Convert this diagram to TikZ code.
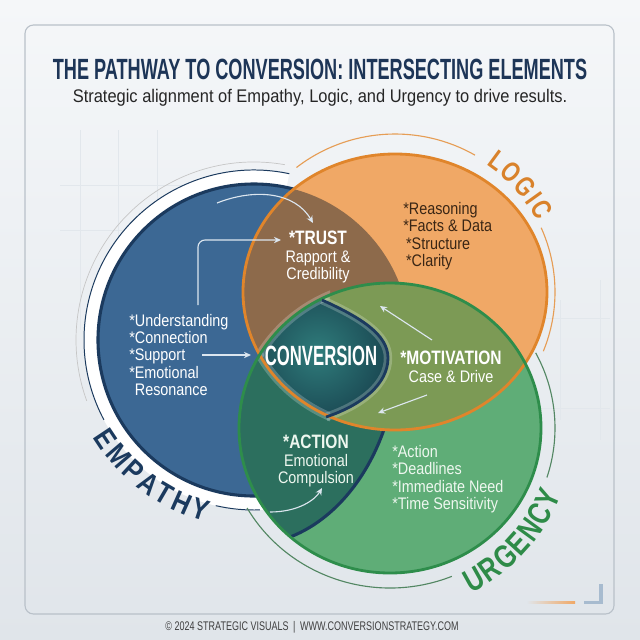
\documentclass[tikz,border=0pt]{standalone}
\usepackage{fontspec}
\setmainfont{Liberation Sans}
\newfontfamily\titlefont{Liberation Sans}[FakeStretch=0.62]
\newfontfamily\headfont{Liberation Sans}[FakeStretch=0.80]
\newfontfamily\bodyfont{Liberation Sans}[FakeStretch=0.86]
\newfontfamily\subfont{Liberation Sans}[FakeStretch=0.90]
\newfontfamily\footfont{Liberation Sans}[FakeStretch=0.72]
\newfontfamily\convfont{Liberation Sans}[FakeStretch=0.60]
\newfontfamily\lblfont{Liberation Sans}[FakeStretch=0.85]
\newfontfamily\lblfontn{Liberation Sans}[FakeStretch=0.78]
\usetikzlibrary{arrows.meta,decorations.text}
\definecolor{bgA}{HTML}{F5F7F9}
\definecolor{bgB}{HTML}{E0E5EA}
\definecolor{gridc}{HTML}{E2E7EC}
\definecolor{framec}{HTML}{B9C1C9}
\definecolor{navy}{HTML}{1B3A5E}
\definecolor{blueF}{HTML}{3C6894}
\definecolor{oraF}{HTML}{F0A866}
\definecolor{oraL}{HTML}{E0852B}
\definecolor{greF}{HTML}{5FAD77}
\definecolor{greL}{HTML}{2E8D4B}
\definecolor{trustF}{HTML}{8D6A4B}
\definecolor{motF}{HTML}{7C9A55}
\definecolor{actF}{HTML}{2C6F5E}
\definecolor{convA}{HTML}{2F7C7B}
\definecolor{convB}{HTML}{163D4A}
\definecolor{titleC}{HTML}{1D3557}
\definecolor{logicT}{HTML}{3A2615}
\definecolor{urgT}{HTML}{EEF7EF}
\definecolor{logicL}{HTML}{D9822B}
\definecolor{urgL}{HTML}{2E8B48}
\definecolor{arrowc}{HTML}{DCE6EF}
\newcommand\headsz{\fontsize{13.8}{12.4}\selectfont\headfont\bfseries}
\newcommand\bodysz{\fontsize{11.9}{12.4}\selectfont\bodyfont}
\newcommand\empfont{\fontsize{21}{22}\selectfont\lblfont\bfseries}
\newcommand\logfont{\fontsize{19.8}{20}\selectfont\lblfontn\bfseries}
\newcommand\urgfont{\fontsize{23}{24}\selectfont\lblfontn\bfseries}
\def\pC{(254,340) circle[radius=156]}
\def\pO{(395,292) ellipse[x radius=152, y radius=138]}
\def\pG{(390,428) ellipse[x radius=151, y radius=145]}
\def\pE{(248,345) ellipse[x radius=150, y radius=200]}
\def\pEye{(322,300) .. controls (362,318) and (388,335) .. (388,358) .. controls (388,384) and (362,405) .. (326,417) -- (200,470) -- (200,250) -- cycle}
\def\pNavyArc{(322,300) .. controls (362,318) and (388,335) .. (388,358) .. controls (388,384) and (362,405) .. (326,417)}
\tikzset{
  txt/.style={inner sep=0pt, font=\bodysz, text=white},
  flow/.style={draw=arrowc, line width=0.8pt, -{Stealth[length=5pt,width=4.5pt]}},
  gridline/.style={draw=gridc, line width=0.5pt},
  glow/.style={draw=white, opacity=0.22, line width=6pt},
}
\begin{document}
\begin{tikzpicture}[x=0.025cm, y=-0.025cm]
\useasboundingbox (0,0) rectangle (640,640);
% background
\shade[top color=bgA, bottom color=bgB] (0,0) rectangle (640,640);
\draw[gridline] (80,130) -- (80,330) (118,130) -- (118,300) (157,130) -- (157,260)
  (60,185) -- (240,185) (60,230) -- (200,230)
  (560,300) -- (560,420) (600,280) -- (600,440) (540,318) -- (610,318) (540,408) -- (610,408);
\draw[framec, line width=0.8pt, rounded corners=6pt] (25,25) rectangle (614,614);
% accents bottom right
\shade[left color=bgB, right color=oraF] (527,601) rectangle (575,603.5);
\draw[color=blueF!45, line width=2.2pt] (601,584) -- (601,602.5) -- (584,602.5);
% outer rings
\draw[white, line width=10pt] (254,340) ++(-78:163) arc[start angle=-78, end angle=-275, radius=163];
\draw[navy, line width=0.7pt] (254,340) ++(-78:170) arc[start angle=-78, end angle=-208, radius=170];
\draw[navy, line width=0.7pt] (254,340) ++(103:170) arc[start angle=103, end angle=88, radius=170];
\draw[gray!45, line width=0.5pt] (254,340) ++(-80:178) arc[start angle=-80, end angle=-200, radius=178];
\draw[oraL!80, line width=0.8pt] (395,292) ++(-128:160 and 158) arc[start angle=-128, end angle=-60, x radius=160, y radius=158];
\draw[oraL!80, line width=0.8pt] (395,292) ++(-24:160 and 158) arc[start angle=-24, end angle=22, x radius=160, y radius=158];
\draw[greL!55!gray, line width=0.8pt] (390,428) ++(-28:165 and 160) arc[start angle=-28, end angle=18, x radius=165, y radius=160];
\draw[greL!55!gray, line width=0.8pt] (390,428) ++(68:165 and 160) arc[start angle=68, end angle=150, x radius=165, y radius=160];
% fills
\fill[blueF] \pC;
\fill[oraF] \pO;
\fill[greF] \pG;
\begin{scope}\clip \pC; \fill[trustF] \pO; \end{scope}
\begin{scope}\clip \pG; \fill[actF] \pE; \fill[actF] \pC; \end{scope}
\begin{scope}\clip \pO; \fill[motF] \pG; \end{scope}
\begin{scope}\clip \pO; \clip \pG; \clip \pEye;
  \shade[inner color=convA, outer color=convB] (318,352) circle[radius=85];
\end{scope}
% glow around the lens
\begin{scope}\clip (200,280) rectangle (330,430); \clip \pG; \draw[glow] \pO; \end{scope}
\begin{scope}\clip (200,280) rectangle (330,430); \clip \pO; \draw[glow] \pG; \end{scope}
\draw[glow] \pNavyArc;
% borders
\begin{scope}[even odd rule]
  \clip (0,0) rectangle (640,640) \pG;
  \begin{scope}[even odd rule]
    \clip (0,0) rectangle (640,640) \pO;
    \draw[navy, line width=2.2pt] \pC;
  \end{scope}
\end{scope}
\begin{scope}\clip \pG;
  \begin{scope}[even odd rule]
    \clip (0,0) rectangle (640,640) \pO;
    \draw[navy, line width=2.2pt] \pE;
  \end{scope}
\end{scope}
\draw[oraL, line width=2pt] \pO;
\draw[greL, line width=2pt] \pG;
\draw[navy, line width=2pt] \pNavyArc;
% arrows
\coordinate (a1s) at (217,203); \coordinate (a1e) at (313,223);
\coordinate (a2s) at (198,305); \coordinate (a2e) at (281,240);
\coordinate (a3s) at (202,355); \coordinate (a3e) at (251,355);
\coordinate (a4s) at (432,340); \coordinate (a4e) at (380,306);
\coordinate (a5s) at (427,395); \coordinate (a5e) at (378,413);
\coordinate (a6s) at (270,512); \coordinate (a6e) at (322,488);
\draw[flow] (a1s) .. controls (255,188) and (295,192) .. (a1e);
\draw[flow, rounded corners=5pt] (a2s) |- (a2e);
\draw[flow] (a3s) -- (a3e);
\draw[flow] (a4s) -- (a4e);
\draw[flow] (a5s) -- (a5e);
\draw[flow] (a6s) .. controls (298,512) and (315,500) .. (a6e);
% titles
\node[text=titleC, inner sep=0pt, font={\fontsize{20.8}{24}\selectfont\titlefont\bfseries}] (title) at (320,69) {THE PATHWAY TO CONVERSION: INTERSECTING ELEMENTS};
\node[txt, text=black!85, font={\fontsize{13}{15}\selectfont\subfont}] (sub) at (320,98) {Strategic alignment of Empathy, Logic, and Urgency to drive results.};
\node[txt, text=black!75, font={\fontsize{8.9}{10}\selectfont\footfont}] (foot) at (312,627) {© 2024 STRATEGIC VISUALS \,|\, WWW.CONVERSIONSTRATEGY.COM};
% region texts
\node[txt, anchor=west, align=left] (emp) at (129,355) {*Understanding\\*Connection\\*Support\\*Emotional\\\hphantom{*}Resonance};
\node[txt, align=center] (trust) at (318,257) {{\headsz *TRUST}\\Rapport \&\\Credibility};
\node[txt, anchor=west, align=left, text=logicT] (logl) at (403,236) {*Reasoning\\*Facts \& Data\\\,*Structure\\\,*Clarity};
\node[txt, font={\fontsize{19.8}{22}\selectfont\convfont\bfseries}] (conv) at (321,356) {CONVERSION};
\node[txt, align=center] (mot) at (451,367) {{\headsz *MOTIVATION}\\Case \& Drive};
\node[txt, align=center, text=urgT] (act) at (316,461) {{\headsz *ACTION}\\Emotional\\Compulsion};
\node[txt, anchor=west, align=left, text=urgT] (urgl) at (392,479) {*Action\\*Deadlines\\*Immediate Need\\*Time Sensitivity};
% curved labels
\path[decorate, decoration={text along path, text align=center, text color=logicL,
  text={|\logfont|L{\kern1.5pt}O{\kern1.5pt}G{\kern1.5pt}I{\kern1.5pt}C}}]
  (395,292) ++(-71:160 and 155) arc[start angle=-71, end angle=-11, x radius=160, y radius=155];
\path[decorate, decoration={text along path, text align=center, text color=navy,
  text={|\empfont|E{\kern2.5pt}M{\kern2.5pt}P{\kern2.5pt}A{\kern2.5pt}T{\kern2.5pt}H{\kern2.5pt}Y}}]
  (254,340) ++(168:188) arc[start angle=168, end angle=86, radius=188];
\path[decorate, decoration={text along path, text align=center, text color=urgL,
  text={|\urgfont|U{\kern1.2pt}R{\kern1.2pt}G{\kern1.2pt}E{\kern1.2pt}N{\kern1.2pt}C{\kern1.2pt}Y}}]
  (390,428) ++(70:184) arc[start angle=70, end angle=15, radius=184];
\end{tikzpicture}
\end{document}
